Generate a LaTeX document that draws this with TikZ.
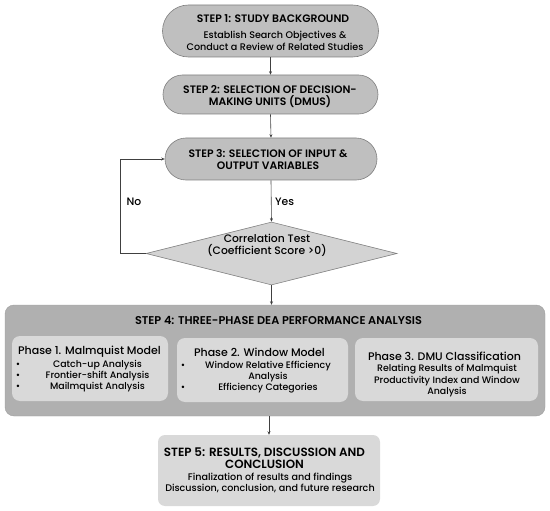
\documentclass[tikz,border=0pt]{standalone}
\usepackage{fontspec}
\setmainfont{Poppins}
\newfontfamily\semib{Poppins SemiBold}
\newfontfamily\medium{Poppins Medium}
\usetikzlibrary{shapes.geometric,arrows.meta}
\definecolor{stepfill}{HTML}{BFBFBF}
\definecolor{stepedge}{HTML}{7F7F7F}
\definecolor{diafill}{HTML}{D3D3D3}
\definecolor{outerfill}{HTML}{B0B0B0}
\definecolor{innerfill}{HTML}{D9D9D9}
\definecolor{linegray}{HTML}{404040}
\newcommand{\ttl}{\fontsize{10.8}{14.5}\selectfont\semib}
\newcommand{\sub}{\fontsize{9.6}{12}\selectfont\medium}
\newcommand{\phs}{\fontsize{11}{12}\selectfont\medium}
\newcommand{\itm}{\fontsize{9.4}{11}\selectfont\medium}
\begin{document}
\begin{tikzpicture}[x=1pt,y=-1pt,
  stepbox/.style={draw=stepedge,fill=stepfill,line width=0.6pt,align=center,inner sep=0pt},
  diabox/.style={diamond,aspect=4,draw=stepedge,fill=diafill,line width=0.6pt,inner sep=0pt,minimum width=251pt,minimum height=63pt},
  outerbox/.style={fill=outerfill,draw=outerfill!90!black,line width=0.4pt,rounded corners=9pt,inner sep=0pt},
  innerbox/.style={fill=innerfill,rounded corners=8pt,inner sep=0pt},
  txt/.style={inner sep=0pt,align=center},
  conn/.style={draw=linegray,line width=0.6pt,-{Stealth[length=3.5pt,width=3pt]}},
  plain/.style={draw=linegray,line width=0.6pt}
]
\useasboundingbox (0,0) rectangle (550,511);

% Step 1
\node[stepbox,rounded corners=26pt,minimum width=216pt,minimum height=52pt] (s1) at (270.5,31) {};
\node[txt] (s1t) at (273,19) {\ttl STEP 1: STUDY BACKGROUND};
\node[txt] (s1s) at (275,41) {\sub Establish Search Objectives \&\\\sub Conduct a Review of Related Studies};

% Step 2
\node[stepbox,rounded corners=19.5pt,minimum width=215pt,minimum height=39pt] (s2) at (270.5,94.5) {};
\node[txt] (s2t) at (270,96.5) {\ttl STEP 2: SELECTION OF DECISION-\\\ttl MAKING UNITS (DMUS)};

% Step 3
\node[stepbox,rounded corners=21pt,minimum width=212pt,minimum height=42pt] (s3) at (271,159) {};
\node[txt] (s3t) at (268,160) {\ttl STEP 3: SELECTION OF INPUT \&\\\ttl OUTPUT VARIABLES};

% Diamond
\node[diabox] (dia) at (271.5,253.5) {};
\node[txt] (diatext) at (267,245.5) {\fontsize{10.8}{14}\selectfont\medium Correlation Test\\\fontsize{10.8}{14}\selectfont\medium (Coefficient Score >0)};

\node[txt,anchor=west] (yes) at (275,202) {\fontsize{10.8}{11}\selectfont\medium Yes};
\node[txt] (no) at (134,202) {\fontsize{10.8}{11}\selectfont\medium No};

% Step 4
\node[outerbox,minimum width=540pt,minimum height=111pt] (s4) at (275,360.5) {};
\node[txt] (s4t) at (278.5,320) {\fontsize{11.3}{14}\selectfont\semib STEP 4: THREE-PHASE DEA PERFORMANCE ANALYSIS};

\node[innerbox,minimum width=156pt,minimum height=65pt] (p1) at (90,368.5) {};
\node[innerbox,minimum width=171pt,minimum height=64pt] (p2) at (262.5,370) {};
\node[innerbox,minimum width=183pt,minimum height=63pt] (p3) at (446.5,369.5) {};

\node[txt] (p1t) at (89.5,352) {\phs Phase 1. Malmquist Model};
\node[txt] (p1a) at (97.5,365) {\itm Catch-up Analysis};
\node[txt] (p1b) at (97.5,376) {\itm Frontier-shift Analysis};
\node[txt] (p1c) at (97.5,387) {\itm Mailmquist Analysis};
\node[txt] (b1a) at (18,365) {\itm •};
\node[txt] (b1b) at (18,376) {\itm •};
\node[txt] (b1c) at (18,387) {\itm •};

\node[txt] (p2t) at (259.5,352) {\phs Phase 2. Window Model};
\node[txt] (p2a) at (268,366) {\itm Window Relative Efficiency};
\node[txt] (p2b) at (268,377) {\itm Analysis};
\node[txt] (p2c) at (268,388) {\itm Efficiency Categories};
\node[txt] (b2a) at (183,366) {\itm •};
\node[txt] (b2c) at (183,388) {\itm •};

\node[txt] (p3t) at (444.5,356) {\phs Phase 3. DMU Classification};
\node[txt] (p3a) at (447,369) {\itm Relating Results of Malmquist};
\node[txt] (p3b) at (447,381) {\itm Productivity Index and Window};
\node[txt] (p3c) at (447,392) {\itm Analysis};

% Step 5
\node[innerbox,rounded corners=7pt,minimum width=222pt,minimum height=71pt] (s5) at (269,470.5) {};
\node[txt] (s5t) at (264.5,458) {\fontsize{11.9}{11.5}\selectfont\semib STEP 5: RESULTS, DISCUSSION AND\\\fontsize{11.9}{11.5}\selectfont\semib CONCLUSION};
\node[txt] (s5s) at (270,483) {\sub Finalization of results and findings\\[-1pt]\sub Discussion, conclusion, and future research};

% Connectors
\draw[conn] (s1.south) -- (s2.north);
\draw[conn] (s2.south) -- (s3.north);
\draw[conn] (s3.south) -- (dia.north);
\draw[conn] (dia.west) -- ++(-25,0) |- (s3.west);
\draw[conn] (dia.south) -- (dia.south |- s4.north);
\draw[conn] (s5.north |- s4.south) -- (s5.north);
\end{tikzpicture}
\end{document}
